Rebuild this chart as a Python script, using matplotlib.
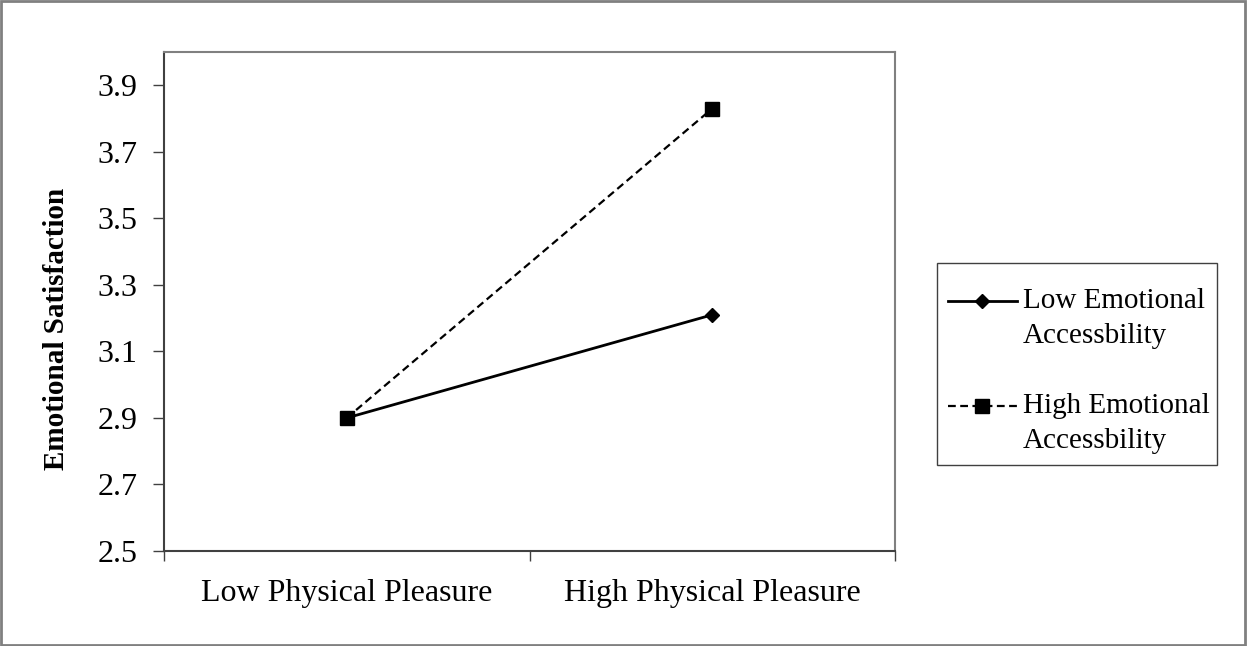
import matplotlib
matplotlib.use("Agg")
import matplotlib.pyplot as plt
from matplotlib.patches import Rectangle
from matplotlib.lines import Line2D

categories = ["Low Physical Pleasure", "High Physical Pleasure"]
low_ea = [2.90, 3.21]
high_ea = [2.90, 3.83]
series_names = ["Low Emotional\nAccessbility", "High Emotional\nAccessbility"]
yticks = [2.5, 2.7, 2.9, 3.1, 3.3, 3.5, 3.7, 3.9]

plt.rcParams['font.family'] = ['Liberation Serif', 'DejaVu Serif']

W, H = 1247, 646
fig = plt.figure(figsize=(W / 100, H / 100), dpi=100)
ax = fig.add_axes([164 / W, 1 - 551 / H, (895 - 164) / W, (551 - 52) / H])

x = [0.5, 1.5]
styles = [dict(color='black', lw=2, marker='D', markersize=7),
          dict(color='black', lw=1.6, ls=(0, (3.5, 2)), marker='s', markersize=10)]
ax.plot(x, low_ea, **styles[0])
ax.plot(x, high_ea, **styles[1])

ax.set_xlim(0, 2)
ax.set_ylim(2.5, 4.0)
ax.set_yticks(yticks)
ax.set_yticklabels([f"{v:.1f}" for v in yticks], fontsize=23)
ax.set_xticks([0, 1, 2])
ax.set_xticklabels([])
ax.set_xticks(x, minor=True)
ax.set_xticklabels(categories, minor=True, fontsize=23)
ax.tick_params(axis='x', which='minor', length=0, pad=20)
ax.tick_params(axis='x', which='major', length=7, width=1, color='#404040')
ax.tick_params(axis='y', length=8, width=1, color='#404040', pad=11)

for s in ['top', 'right']:
    ax.spines[s].set_color('#808080')
    ax.spines[s].set_linewidth(1.5)
for s in ['left', 'bottom']:
    ax.spines[s].set_color('#404040')
    ax.spines[s].set_linewidth(1.5)

fig.text(57 / W, 1 - 329 / H, "Emotional Satisfaction", fontsize=21, fontweight='bold',
         rotation=90, ha='center', va='center')

# legend box drawn by hand so the handle sits on the first text line
fig.patches.append(Rectangle((937 / W, 1 - 465 / H), (1217 - 937) / W, (465 - 263) / H,
                             transform=fig.transFigure, fill=False,
                             edgecolor='#404040', lw=1))
for i, name in enumerate(series_names):
    yl = 1 - (301 + i * 105) / H
    st = dict(styles[i])
    mk = st.pop('marker'); ms = st.pop('markersize')
    fig.add_artist(Line2D([948 / W, 1017 / W], [yl, yl], transform=fig.transFigure, **st))
    fig.add_artist(Line2D([982 / W], [yl], transform=fig.transFigure, color='black',
                          marker=mk, markersize=ms, ls='none'))
    fig.text(1023 / W, yl + 13 / H, name, fontsize=21, va='top', ha='left',
             linespacing=1.45)

fig.patches.append(Rectangle((0.001, 0.002), 0.997, 0.996, transform=fig.transFigure,
                             fill=False, edgecolor='#808080', lw=2))

fig.savefig("out.png", dpi=100)
